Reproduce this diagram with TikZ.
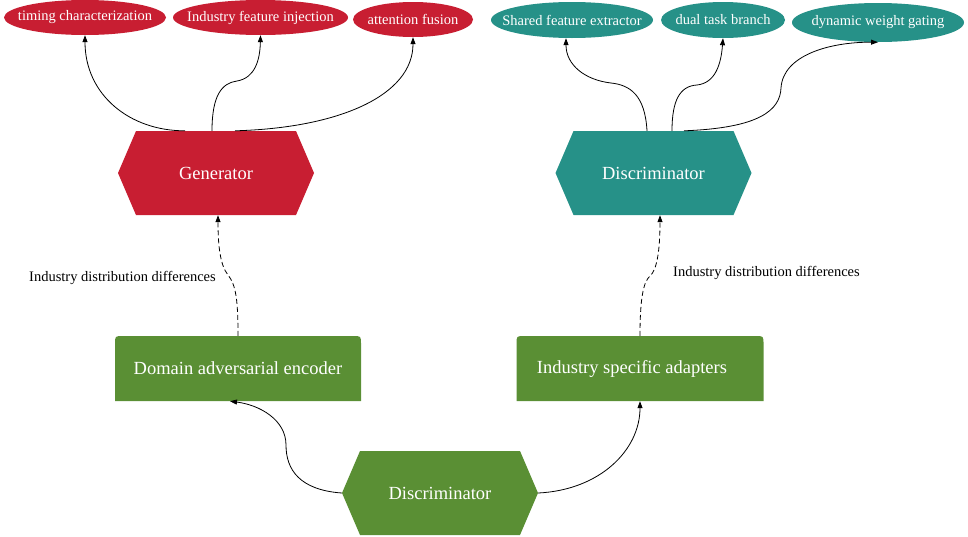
\documentclass[tikz,border=0pt]{standalone}
\usepackage{fontspec}
\setmainfont{Liberation Serif}
\usetikzlibrary{shapes.geometric,arrows.meta}
\definecolor{cred}{RGB}{200,30,50}
\definecolor{cteal}{RGB}{38,145,136}
\definecolor{cgreen}{RGB}{90,143,52}
\newcommand{\zb}[1]{\makebox[0pt]{#1}}
\tikzset{
  ell/.style={ellipse, fill=#1, text=white, inner sep=0pt, font=\fontsize{14.5}{16}\selectfont},
  hexbox/.style={rectangle, inner sep=0pt, minimum width=196pt, minimum height=84pt, text=white,
    font=\fontsize{18.5}{21}\selectfont,
    path picture={\fill[#1] ([xshift=18pt]path picture bounding box.north west) -- ([xshift=-18pt]path picture bounding box.north east) -- (path picture bounding box.east) -- ([xshift=-18pt]path picture bounding box.south east) -- ([xshift=18pt]path picture bounding box.south west) -- (path picture bounding box.west) -- cycle;}},
  greenbox/.style={rectangle, inner sep=0pt, minimum width=246pt, minimum height=65pt, text=white,
    font=\fontsize{18.5}{21}\selectfont,
    path picture={\fill[cgreen] (path picture bounding box.south west) -- ([yshift=-8pt]path picture bounding box.north west) .. controls (path picture bounding box.north west) .. ([xshift=8pt]path picture bounding box.north west) -- ([xshift=-8pt]path picture bounding box.north east) .. controls (path picture bounding box.north east) .. ([yshift=-8pt]path picture bounding box.north east) -- (path picture bounding box.south east) -- cycle;}},
  arr/.style={line width=0.8pt, -{Triangle[length=7pt,width=5pt]}},
  darr/.style={arr, dash pattern=on 5pt off 3pt},
  lbl/.style={font=\fontsize{14.5}{16}\selectfont, inner sep=0pt}
}
\begin{document}
\begin{tikzpicture}[x=1pt,y=-1pt]
\useasboundingbox (0,0) rectangle (968,536);
% top ellipses
\node[ell=cred, minimum width=162pt, minimum height=35pt] (e1) at (85,17.5) {\zb{timing characterization}};
\node[ell=cred, minimum width=175pt, minimum height=35pt] (e2) at (260.5,17.5) {\zb{Industry feature injection}};
\node[ell=cred, minimum width=120pt, minimum height=35pt] (e3) at (413,19.5) {\zb{attention fusion}};
\node[ell=cteal, minimum width=162pt, minimum height=36pt] (e4) at (572,20) {\zb{Shared feature extractor}};
\node[ell=cteal, minimum width=124pt, minimum height=36pt] (e5) at (723,20) {\zb{dual task branch}};
\node[ell=cteal, minimum width=172pt, minimum height=39pt] (e6) at (878,22.5) {\zb{dynamic weight gating}};
% main nodes
\node[hexbox=cred] (gen) at (216,173) {Generator};
\node[hexbox=cteal] (dis1) at (653.5,173) {Discriminator};
\node[greenbox] (enc) at (238,368.5) {Domain adversarial encoder};
\node[greenbox, minimum width=247pt] (adp) at (640,368.5) {\hspace{-16pt}Industry specific adapters};
\node[hexbox=cgreen] (dis2) at (440,493) {Discriminator};
% labels
\node[lbl, anchor=east] (l1) at (216,278) {Industry distribution differences};
\node[lbl, anchor=west] (l2) at (673,273) {Industry distribution differences};
% generator edges
\draw[arr] ([xshift=-31pt]gen.north) .. controls (130,131) and (85,95) .. (e1.south);
\draw[arr] ([xshift=-4pt]gen.north) .. controls (212,95) and (222,83) .. (237,81) .. controls (255,78) and (260,60) .. (e2.south);
\draw[arr] ([xshift=19pt]gen.north) .. controls (340,128) and (413,95) .. (e3.south);
% discriminator edges
\draw[arr] ([xshift=-6.5pt]dis1.north) .. controls (645,95) and (630,85) .. (611,83) .. controls (585,80) and (566,65) .. ([xshift=-6pt]e4.south);
\draw[arr] ([xshift=18.5pt]dis1.north) .. controls (672,100) and (680,86) .. (697,85) .. controls (715,83) and (721,65) .. (e5.south);
\draw[arr] ([xshift=30.5pt]dis1.north) .. controls (760,128) and (780,110) .. (781,88) .. controls (783,55) and (830,42) .. (e6.south);
% dashed edges
\draw[darr] (enc.north) .. controls (238,300) and (236,285) .. (228,275) .. controls (220,265) and (218,245) .. ([xshift=2pt]gen.south);
\draw[darr] (adp.north) .. controls (640,300) and (643,282) .. (650,276) .. controls (657,270) and (660,250) .. ([xshift=6.5pt]dis1.south);
% bottom edges
\draw[arr] (dis2.west) .. controls (300,490) and (286,470) .. (286,445) .. controls (286,420) and (260,405) .. ([xshift=-8pt]enc.south);
\draw[arr] (dis2.east) .. controls (600,490) and (640,450) .. (adp.south);
\end{tikzpicture}
\end{document}
